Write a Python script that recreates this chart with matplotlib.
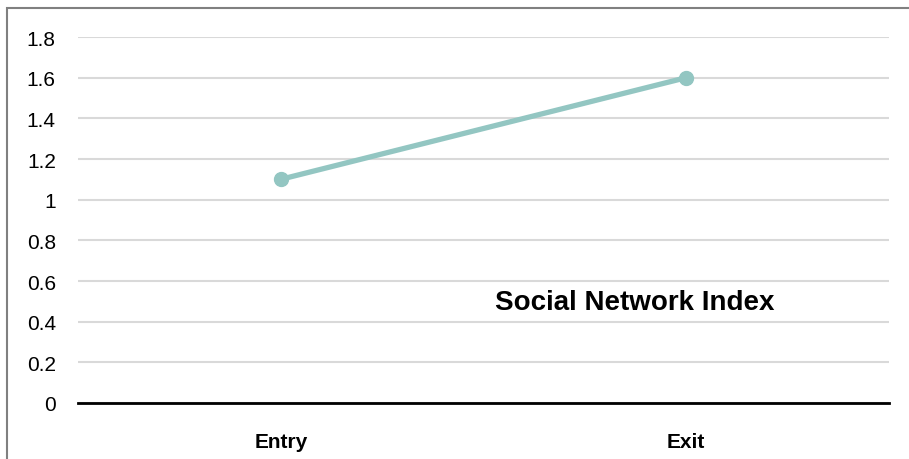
import numpy as np
import matplotlib
matplotlib.use("Agg")
import matplotlib.pyplot as plt
import matplotlib.transforms as mtransforms
from matplotlib.patches import Rectangle

# data
stages = ["Entry", "Exit"]
sni_values = [1.1, 1.6]
y_ticks = [0, 0.2, 0.4, 0.6, 0.8, 1, 1.2, 1.4, 1.6, 1.8]
y_labels = ["0", "0.2", "0.4", "0.6", "0.8", "1", "1.2", "1.4", "1.6", "1.8"]
chart_label = "Social Network Index"

plt.rcParams['font.family'] = ['Liberation Sans', 'DejaVu Sans']

fig = plt.figure(figsize=(9.09, 4.6), dpi=100)
ax = fig.add_axes([78/909, 56/460, 811/909, 366/460])

x = np.arange(len(stages))
ax.plot(x, sni_values, color='#93c6c2', lw=3.8, marker='o', ms=10,
        solid_capstyle='round', zorder=3)

ax.set_xlim(-0.5, len(stages) - 0.5)
ax.set_ylim(0, 1.8)
ax.set_yticks(y_ticks)
ax.set_yticklabels(y_labels, fontsize=15)
ax.set_xticks(x)
ax.set_xticklabels(stages, fontsize=15, fontweight='bold')
ax.tick_params(axis='both', length=0)
ax.tick_params(axis='y', pad=16)
ax.tick_params(axis='x', pad=21)

ax.grid(axis='y', color='#d9d9d9', lw=1.5)
ax.set_axisbelow(True)
for s in ['top', 'right', 'left']:
    ax.spines[s].set_visible(False)
ax.spines['bottom'].set_color('black')
ax.spines['bottom'].set_linewidth(2)
ax.spines['bottom'].set_zorder(4)

# label sits inside the plot area (x in axes fraction, y in data units)
trans = mtransforms.blended_transform_factory(ax.transAxes, ax.transData)
ax.text(0.686, 0.497, chart_label, transform=trans,
        fontsize=20, fontweight='bold', ha='center', va='center')

# chart border (only left and top edges are visible in the crop)
fig.patches.append(Rectangle((7.5/909, -0.1), 1.2, 1 - 8.5/460 + 0.1,
                             transform=fig.transFigure, fill=False,
                             edgecolor='#808080', lw=1.5))

fig.savefig("out.png", dpi=100)
